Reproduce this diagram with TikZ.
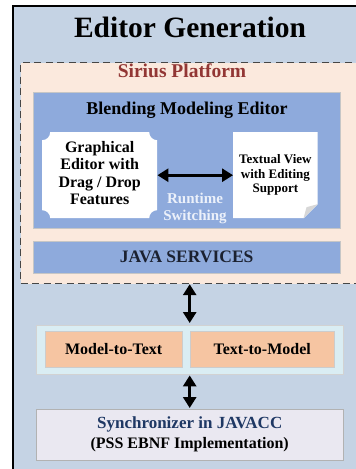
\documentclass[tikz,border=0pt]{standalone}
\usepackage{fontspec}
\setmainfont{Liberation Serif}
\usetikzlibrary{arrows.meta}
\definecolor{outerblue}{RGB}{197,211,228}
\definecolor{peach}{RGB}{251,233,221}
\definecolor{blendblue}{RGB}{142,170,220}
\definecolor{lightcyan}{RGB}{218,237,243}
\definecolor{softorange}{RGB}{246,197,162}
\definecolor{lavender}{RGB}{234,232,241}
\definecolor{siriusred}{RGB}{146,54,52}
\definecolor{navy}{RGB}{31,56,100}
\definecolor{javatext}{RGB}{27,33,48}
\definecolor{runtimewhite}{RGB}{236,241,250}
\definecolor{dashgray}{RGB}{70,70,70}
\definecolor{foldgray}{RGB}{215,215,215}
\begin{document}
\begin{tikzpicture}[x=1pt, y=1pt,
            box/.style={rectangle, inner sep=0pt, anchor=north west, font=\bfseries},
            frame/.style={box, draw=black, line width=1.6pt, fill=outerblue, minimum width=400pt, minimum height=500pt},
            platform/.style={box, draw=dashgray, line width=1.2pt, dash pattern=on 7pt off 4.5pt, fill=peach, minimum width=400pt, minimum height=221pt},
            bluebox/.style={box, draw=gray!45, fill=blendblue, minimum width=307pt},
            gedit/.style={box, minimum width=115pt, minimum height=86pt, font=\bfseries\fontsize{16}{17.5}\selectfont,
                path picture={\fill[white] ([xshift=8pt]path picture bounding box.north west) -- ([xshift=-8pt]path picture bounding box.north east)
                    arc[start angle=180, end angle=270, radius=8pt] -- ([yshift=8pt]path picture bounding box.south east)
                    arc[start angle=90, end angle=180, radius=8pt] -- ([xshift=8pt]path picture bounding box.south west)
                    arc[start angle=0, end angle=90, radius=8pt] -- ([yshift=-8pt]path picture bounding box.north west)
                    arc[start angle=270, end angle=360, radius=8pt] -- cycle;}},
            docnode/.style={box, minimum width=84pt, minimum height=86pt, font=\bfseries\fontsize{13}{14.5}\selectfont,
                path picture={\fill[white] (path picture bounding box.north west) -- (path picture bounding box.north east)
                    -- ([yshift=14pt]path picture bounding box.south east) -- ([xshift=-14pt]path picture bounding box.south east)
                    -- (path picture bounding box.south west) -- cycle;
                    \fill[foldgray] ([yshift=14pt]path picture bounding box.south east) -- ([xshift=-14pt]path picture bounding box.south east)
                    -- ([xshift=-11pt, yshift=11pt]path picture bounding box.south east) -- cycle;}},
            convbox/.style={box, draw=gray!35, fill=lightcyan, minimum width=307pt, minimum height=49pt},
            mbox/.style={box, draw=gray!40, fill=softorange, minimum height=36pt, font=\bfseries\fontsize{16}{18}\selectfont},
            syncbox/.style={box, draw=gray!60, fill=lavender, minimum width=307pt, minimum height=51pt, font=\bfseries\fontsize{17}{20}\selectfont},
            twoway/.style={{Triangle[width=13pt, length=11pt]}-{Triangle[width=13pt, length=11pt]}, line width=3pt, black},
        ]
            \useasboundingbox (0,0) rectangle (356,-469);
            \clip (0,0) rectangle (356,-469);
            % outer frame and title
            \node(frame) at (12,-5) [frame] {};
            \node(title) at (190,-37) [anchor=base, font=\bfseries\fontsize{29.5}{33}\selectfont] {Editor Generation};
            % sirius platform
            \node(platform) at (20,-62) [platform] {};
            \node(sirius) at (182,-77) [anchor=base, text=siriusred, font=\bfseries\fontsize{19.5}{22}\selectfont] {Sirius Platform};
            \node(blend) at (33,-92) [bluebox, minimum height=136pt] {};
            \node(blendtitle) at (187,-114) [anchor=base, font=\bfseries\fontsize{18}{21}\selectfont] {Blending Modeling Editor};
            \node(graphical) at (42,-132) [gedit] {\begin{tabular}{c} Graphical \\ Editor with \\ Drag / Drop \\ Features \end{tabular}};
            \node(textual) at (233,-132) [docnode] {\begin{tabular}{c} Textual View \\ with Editing \\ Support \end{tabular}};
            \draw[twoway] (graphical) -- (textual);
            \node(runtime) at (195,-209) [text=runtimewhite, font=\bfseries\fontsize{15}{17}\selectfont] {\begin{tabular}{c} Runtime \\ Switching \end{tabular}};
            \node(java) at (33,-241) [bluebox, minimum height=32pt, text=javatext, font=\bfseries\fontsize{17.5}{20}\selectfont] {JAVA SERVICES};
            % transformations
            \node(conv) at (36,-325) [convbox] {};
            \node(mtot) at (45,-331) [mbox, minimum width=137pt] {Model-to-Text};
            \node(ttom) at (190,-331) [mbox, minimum width=144pt] {Text-to-Model};
            \draw[twoway, shorten >=2pt] (platform.south -| conv.north) -- (conv.north);
            % synchronizer
            \node(sync) at (36,-409) [syncbox] {\begin{tabular}{c} \textcolor{navy}{Synchronizer in JAVACC} \\ {\fontsize{16}{20}\selectfont (PSS EBNF Implementation)} \end{tabular}};
            \draw[twoway, shorten <=1pt, shorten >=1pt] (conv) -- (sync);
        \end{tikzpicture}
\end{document}
